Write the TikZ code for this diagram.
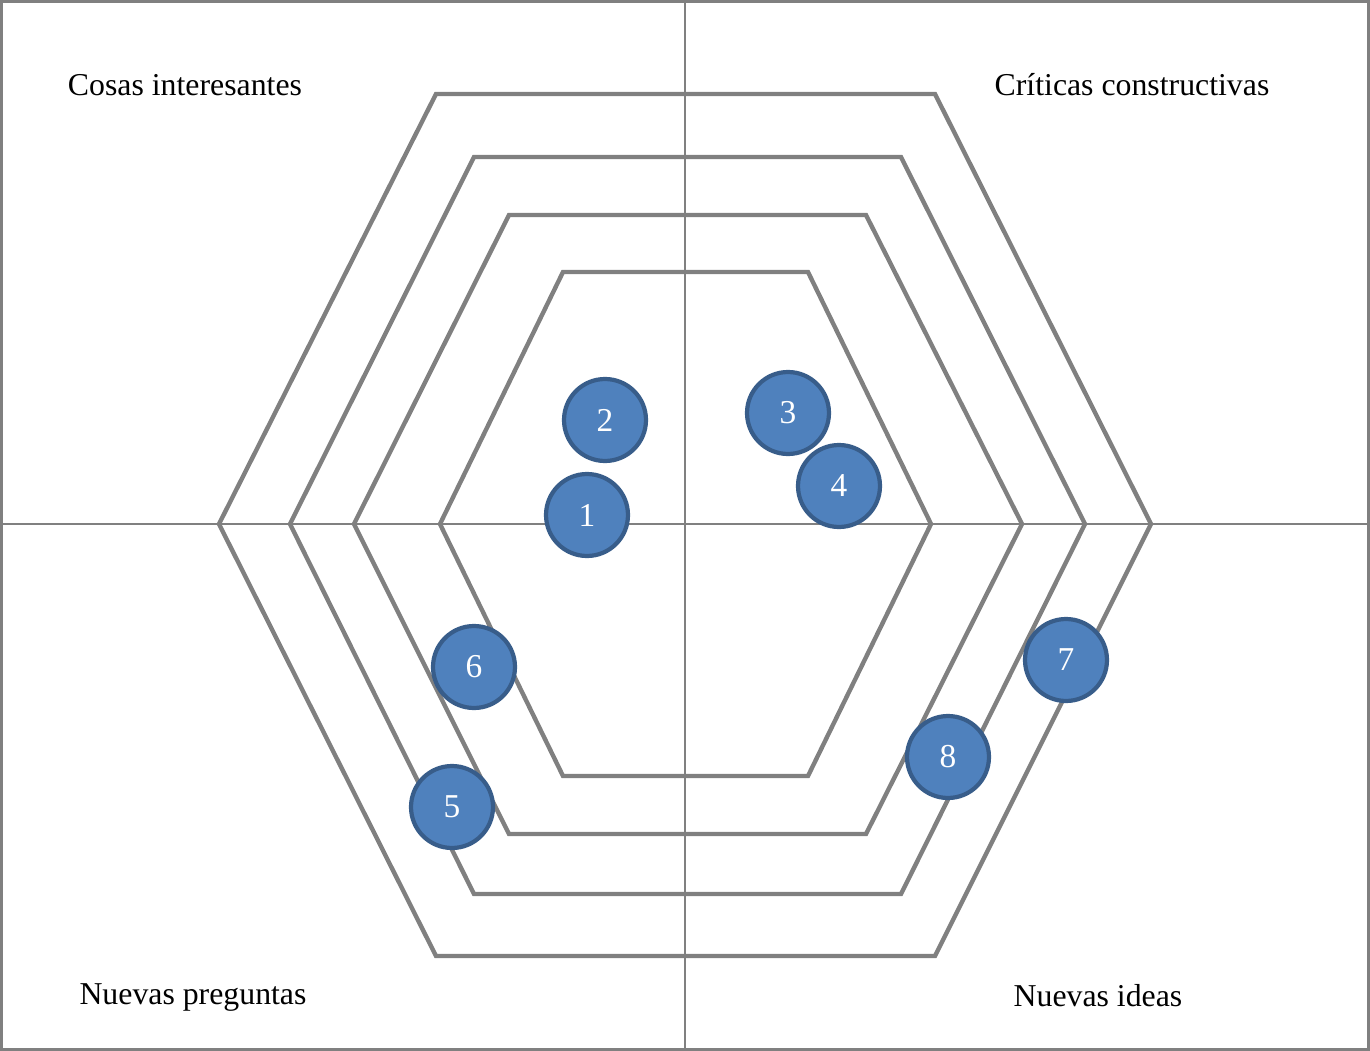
\documentclass[tikz,border=0pt]{standalone}
\usepackage{fontspec}
\setmainfont{Liberation Serif}
\usepackage{tikz}
\usetikzlibrary{positioning}
\definecolor{hexgray}{HTML}{808080}
\definecolor{dotfill}{HTML}{4F81BD}
\definecolor{dotline}{HTML}{385D8A}

\begin{document}
\begin{tikzpicture} [
    x=0.02cm, y=-0.02cm,
    frame/.style={draw=hexgray, line width=1.6pt},
    axis/.style={draw=hexgray, line width=0.8pt},
    hex/.style={draw=hexgray, line width=2.5pt, line join=miter},
    dot/.style={circle, draw=dotline, fill=dotfill, line width=2.4pt, minimum size=1.64cm, inner sep=0pt, text=white, font=\fontsize{19}{21}\selectfont},
    corner/.style={font=\fontsize{18.1}{20}\selectfont, inner sep=0pt, anchor=base}
]
    \useasboundingbox (0,0) rectangle (1370,1051);

    % Frame and axes
    \draw[frame] (1.5,1.5) rectangle (1368.5,1049.5);
    \coordinate (top) at (685,0);
    \coordinate (bottom) at (685,1051);
    \coordinate (left) at (0,524);
    \coordinate (right) at (1370,524);
    \path[axis] (top) -- (bottom);
    \path[axis] (left) -- (right);

    % Hexagons
    \draw[hex] (436,94) -- (935,94) -- (1151,524) -- (935,956) -- (436,956) -- (219,524) -- cycle;
    \draw[hex] (474,157) -- (901,157) -- (1085,524) -- (901,894) -- (474,894) -- (290,524) -- cycle;
    \draw[hex] (509,215) -- (866,215) -- (1022,524) -- (866,834) -- (509,834) -- (354,524) -- cycle;
    \draw[hex] (563,272) -- (808,272) -- (931,524) -- (808,776) -- (563,776) -- (440,524) -- cycle;

    % Quadrant labels
    \node[corner] (interesting) at (185,96) {Cosas interesantes};
    \node[corner] (critics) at (1132,96) {Críticas constructivas};
    \node[corner] (questions) at (193,1004) {Nuevas preguntas};
    \node[corner] (ideas) at (1098,1006) {Nuevas ideas};

    % Points
    \node[dot] (p1) at (587,515) {1};
    \node[dot] (p2) at (605,420) {2};
    \node[dot] (p3) at (788,413) {3};
    \node[dot] (p4) at (839,486) {4};
    \node[dot] (p5) at (452,807) {5};
    \node[dot] (p6) at (474,667) {6};
    \node[dot] (p7) at (1066,660) {7};
    \node[dot] (p8) at (948,757) {8};

\end{tikzpicture}
\end{document}
